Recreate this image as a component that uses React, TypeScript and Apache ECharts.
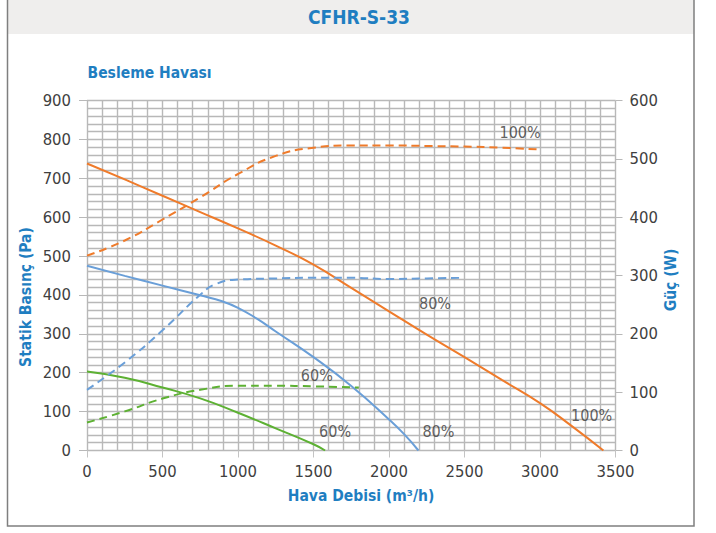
import React, { useEffect, useRef } from "react";
import * as echarts from "echarts";

// Pressure curves (Pa) vs airflow (m3/h)
const flow100 = [0, 250, 500, 750, 1000, 1250, 1500, 1750, 2000, 2250, 2500, 2750, 3000, 3200, 3420];
const pressure100 = [738, 697, 655, 613, 571, 527, 478, 418, 358, 298, 240, 181, 122, 66, 0];

const flow80 = [0, 250, 500, 750, 900, 1000, 1125, 1250, 1500, 1750, 2000, 2100, 2195];
const pressure80 = [475, 449, 424, 399, 383, 367, 339, 306, 240, 166, 80, 42, 0];

const flow60 = [0, 250, 500, 750, 1000, 1250, 1500, 1577];
const pressure60 = [203, 187, 162, 134, 97, 57, 16, 0];

// Power curves (W) vs airflow
const powerFlow100 = [0, 250, 500, 750, 1000, 1250, 1500, 1750, 2000, 2250, 2500, 2750, 3000];
const power100 = [334, 360, 396, 434, 474, 505, 519, 523, 523, 522, 521, 519, 516];

const powerFlow80 = [0, 250, 500, 750, 850, 1000, 1250, 1500, 1750, 2000, 2250, 2480];
const power80 = [104, 151, 206, 267, 285, 293, 295, 296, 296, 294, 295, 296];

const powerFlow60 = [0, 250, 500, 750, 1000, 1250, 1500, 1800];
const power60 = [48, 67, 89, 104, 111, 111, 110, 108];

// Curve labels: [flow, pressure, text]
const curveLabels: [number, number, string][] = [
  [2868, 818, "100%"],
  [2305, 379, "80%"],
  [1522, 192, "60%"],
  [1643, 48, "60%"],
  [2327, 48, "80%"],
  [3342, 91, "100%"],
];

const xTicks = { min: 0, max: 3500, interval: 500 };
const yLeftTicks = { min: 0, max: 900, interval: 100 };
const yRightTicks = { min: 0, max: 600, interval: 100 };

const TITLE = "CFHR-S-33";
const SUBTITLE = "Besleme Havası";
const X_NAME = "Hava Debisi (m³/h)";
const Y_NAME = "Statik Basınç (Pa)";
const Y2_NAME = "Güç (W)";

const ORANGE = "#EF7B2B";
const BLUE = "#6A9FD8";
const GREEN = "#5DB133";
const TEXT_BLUE = "#1F7EC1";
const FONT = '"DejaVu Sans Condensed", "DejaVu Sans", sans-serif';

const zip = (xs: number[], ys: number[]) => xs.map((x, i) => [x, ys[i]]);

export default function App() {
  const ref = useRef<HTMLDivElement>(null);
  useEffect(() => {
    const chart = echarts.init(ref.current!, null, { renderer: "svg" });
    const gridLine = { show: true, lineStyle: { color: "#b8b8b8", width: 1.4 } };
    const axisLabel = {
      color: "#404040",
      fontSize: 16.5,
      fontFamily: FONT,
      formatter: (v: number) => String(v),
    };
    const lineSeries = (name: string, data: number[][], color: string, dashed: boolean, yAxisIndex: number) => ({
      name,
      type: "line",
      data,
      yAxisIndex,
      symbol: "none",
      smooth: 0.5,
      silent: true,
      lineStyle: { color, width: 2, type: dashed ? [8, 5] : "solid" },
      z: 3,
    });
    chart.setOption({
      animation: false,
      grid: { left: 87, right: 100.5, top: 100.5, bottom: 82.5, containLabel: false },
      xAxis: {
        type: "value",
        ...xTicks,
        axisLine: { show: false },
        axisTick: { show: true, length: 7, lineStyle: { color: "#c4c4c4" } },
        axisLabel: { ...axisLabel, margin: 12 },
        splitLine: gridLine,
        minorTick: { show: false, splitNumber: 5 },
        minorSplitLine: gridLine,
      },
      yAxis: [
        {
          type: "value",
          ...yLeftTicks,
          axisLine: { show: false },
          axisTick: { show: true, length: 8, lineStyle: { color: "#b8b8b8" } },
          axisLabel: { ...axisLabel, margin: 16 },
          splitLine: gridLine,
          minorTick: { show: false, splitNumber: 5 },
          minorSplitLine: gridLine,
        },
        {
          type: "value",
          position: "right",
          ...yRightTicks,
          axisLine: { show: false },
          axisTick: { show: true, length: 7, lineStyle: { color: "#b8b8b8" } },
          axisLabel: { ...axisLabel, margin: 14 },
          splitLine: { show: false },
        },
      ],
      series: [
        lineSeries("P100", zip(flow100, pressure100), ORANGE, false, 0),
        lineSeries("P80", zip(flow80, pressure80), BLUE, false, 0),
        lineSeries("P60", zip(flow60, pressure60), GREEN, false, 0),
        lineSeries("W100", zip(powerFlow100, power100), ORANGE, true, 1),
        lineSeries("W80", zip(powerFlow80, power80), BLUE, true, 1),
        lineSeries("W60", zip(powerFlow60, power60), GREEN, true, 1),
        {
          type: "scatter",
          yAxisIndex: 0,
          silent: true,
          symbol: "circle",
          symbolSize: 0,
          itemStyle: { color: "rgba(0,0,0,0)" },
          data: curveLabels.map((l) => [l[0], l[1], l[2]]),
          label: {
            show: true,
            position: "inside",
            formatter: (p: any) => p.data[2],
            color: "#383838",
            textBorderWidth: 0,
            textBorderColor: "transparent",
            fontSize: 16,
            fontFamily: FONT,
          },
          z: 5,
        },
      ],
      graphic: [
        { type: "rect", shape: { x: 8, y: 0, width: 686, height: 34 }, style: { fill: "#EFEEED" }, silent: true },
        {
          type: "polyline",
          shape: { points: [[7.5, 0], [7.5, 526], [694, 526], [694, 0]] },
          style: { stroke: "#7f7f7f", lineWidth: 1.5, fill: null },
          silent: true,
        },
        {
          type: "text",
          x: 359,
          y: 17,
          style: {
            text: TITLE, fill: TEXT_BLUE, fontSize: 19, fontWeight: "bold", fontFamily: FONT,
            textAlign: "center", textVerticalAlign: "middle", align: "center", verticalAlign: "middle",
          },
        },
        {
          type: "text",
          x: 87.5,
          y: 72.5,
          style: {
            text: SUBTITLE, fill: TEXT_BLUE, fontSize: 15.5, fontWeight: "bold", fontFamily: FONT,
            textAlign: "left", textVerticalAlign: "middle", align: "left", verticalAlign: "middle",
          },
        },
        {
          type: "text",
          x: 361,
          y: 496,
          style: {
            text: X_NAME, fill: TEXT_BLUE, fontSize: 15.5, fontWeight: "bold", fontFamily: FONT,
            textAlign: "center", textVerticalAlign: "middle", align: "center", verticalAlign: "middle",
          },
        },
        {
          type: "text",
          x: 26,
          y: 297,
          rotation: Math.PI / 2,
          style: {
            text: Y_NAME, fill: TEXT_BLUE, fontSize: 15.5, fontWeight: "bold", fontFamily: FONT,
            textAlign: "center", textVerticalAlign: "middle", align: "center", verticalAlign: "middle",
          },
        },
        {
          type: "text",
          x: 671,
          y: 280,
          rotation: Math.PI / 2,
          style: {
            text: Y2_NAME, fill: TEXT_BLUE, fontSize: 15.5, fontWeight: "bold", fontFamily: FONT,
            textAlign: "center", textVerticalAlign: "middle", align: "center", verticalAlign: "middle",
          },
        },
      ],
    });
    return () => chart.dispose();
  }, []);
  return (
    <div
      ref={ref}
      style={{ position: "absolute", left: 0, top: 0, width: 716, height: 533, background: "#ffffff" }}
    />
  );
}
